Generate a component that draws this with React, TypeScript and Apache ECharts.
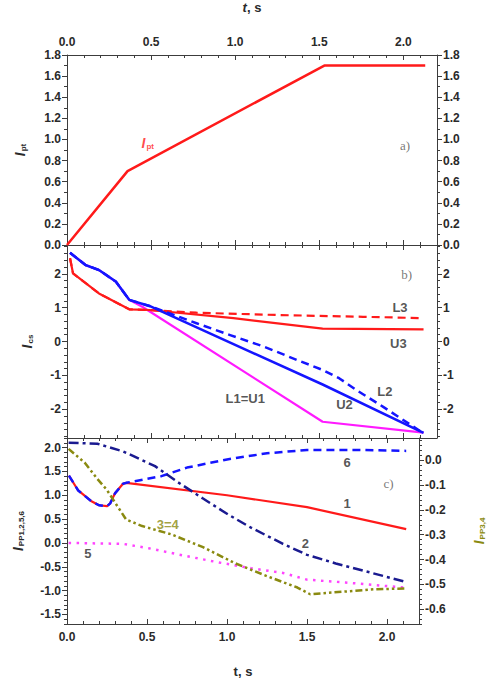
import React, { useEffect, useRef } from "react";
import * as echarts from "echarts";

// ---------- Panel a ----------
const T_PT = [0, 0.36, 1.53, 2.13];
const I_PT = [0, 0.7, 1.7, 1.7];

// ---------- Panel b ----------
const T_U3 = [0.018, 0.036, 0.19, 0.37, 0.49, 0.99, 1.52, 2.12];
const V_U3 = [2.46, 2.01, 1.42, 0.95, 0.93, 0.69, 0.38, 0.36];
const T_L3 = [0.018, 0.036, 0.19, 0.37, 0.49, 0.77, 1.27, 1.76, 2.12];
const V_L3 = [2.46, 2.01, 1.42, 0.95, 0.93, 0.85, 0.78, 0.73, 0.69];
const T_U2 = [0.018, 0.11, 0.19, 0.29, 0.37, 0.49, 1.52, 2.12];
const V_U2 = [2.62, 2.26, 2.11, 1.77, 1.23, 1.05, -1.27, -2.7];
const T_L2 = [0.018, 0.11, 0.19, 0.29, 0.37, 0.49, 0.77, 0.97, 1.17, 1.37, 1.52, 1.62, 1.72, 1.88, 2.12];
const V_L2 = [2.62, 2.26, 2.11, 1.77, 1.23, 1.05, 0.54, 0.19, -0.15, -0.55, -0.84, -1.09, -1.43, -1.93, -2.71];
const T_L1U1 = [0.018, 0.11, 0.19, 0.29, 0.37, 0.45, 1.52, 2.12];
const V_L1U1 = [2.62, 2.26, 2.11, 1.77, 1.23, 1.02, -2.37, -2.69];

// ---------- Panel c ----------
const T_C1 = [0.012, 0.07, 0.15, 0.2, 0.25, 0.27, 0.3, 0.35, 0.37, 1.0, 1.5, 2.12];
const V_C1 = [1.41, 1.1, 0.88, 0.79, 0.77, 0.83, 1.04, 1.24, 1.26, 1.0, 0.75, 0.29];
const T_C6 = [0.012, 0.07, 0.15, 0.2, 0.25, 0.27, 0.3, 0.35, 0.37, 0.59, 0.75, 1.0, 1.25, 1.5, 1.8, 2.12];
const V_C6 = [1.41, 1.1, 0.88, 0.79, 0.77, 0.83, 1.04, 1.24, 1.26, 1.4, 1.58, 1.75, 1.88, 1.95, 1.95, 1.93];
const T_C2 = [0.01, 0.19, 0.35, 0.55, 0.69, 0.85, 1.01, 1.15, 1.35, 1.5, 1.68, 2.12];
const V_C2 = [2.1, 2.08, 1.92, 1.61, 1.28, 0.93, 0.59, 0.32, -0.02, -0.25, -0.43, -0.82];
const T_C34 = [0.01, 0.11, 0.19, 0.25, 0.31, 0.37, 0.47, 0.65, 0.85, 1.05, 1.25, 1.44, 1.52, 1.74, 1.92, 2.11];
const V_C34 = [0.046, -0.009, -0.075, -0.12, -0.18, -0.239, -0.265, -0.298, -0.35, -0.415, -0.467, -0.513, -0.54, -0.529, -0.52, -0.517];
const T_C5 = [0.01, 0.35, 0.51, 0.75, 0.95, 1.15, 1.35, 1.5, 1.74, 2.12];
const V_C5 = [0.0, -0.02, -0.11, -0.28, -0.41, -0.53, -0.63, -0.77, -0.83, -0.94];

// ---------- Ticks ----------
const X_TICKS = [0, 0.5, 1.0, 1.5, 2.0];
const YA_TICKS = [0, 0.2, 0.4, 0.6, 0.8, 1.0, 1.2, 1.4, 1.6, 1.8];
const YB_TICKS = [-2, -1, 0, 1, 2];
const YC_TICKS = [-1.5, -1.0, -0.5, 0, 0.5, 1.0, 1.5, 2.0];
const YCR_TICKS = [-0.6, -0.5, -0.4, -0.3, -0.2, -0.1, 0];

// ---------- Annotations (data coordinates) ----------
const LABELS_A = [
  { text: "{i|I}{s|pt}", t: 0.48, v: 0.97, kind: "ipt" },
  { text: "a)", t: 2.01, v: 0.94, kind: "panel" },
];
const LABELS_B = [
  { text: "b)", t: 2.02, v: 1.98, kind: "panel" },
  { text: "L3", t: 1.98, v: 1.01, kind: "curve" },
  { text: "U3", t: 1.97, v: -0.05, kind: "curve" },
  { text: "L2", t: 1.89, v: -1.48, kind: "curve" },
  { text: "U2", t: 1.65, v: -1.87, kind: "curve" },
  { text: "L1=U1", t: 1.06, v: -1.68, kind: "curve" },
];
const LABELS_C = [
  { text: "c)", t: 2.01, v: 1.24, kind: "panel" },
  { text: "6", t: 1.75, v: 1.68, kind: "curve" },
  { text: "1", t: 1.75, v: 0.83, kind: "curve" },
  { text: "3=4", t: 0.63, v: 0.39, kind: "olive" },
  { text: "2", t: 1.49, v: -0.01, kind: "curve" },
  { text: "5", t: 0.13, v: -0.22, kind: "curve" },
];

const FONT = "'Liberation Sans', Arial, sans-serif";
const SERIF = "'Liberation Serif', 'DejaVu Serif', serif";
const AXIS_COLOR = "#3c3c3c";
const TEXT_COLOR = "#2a2a2a";
const RED = "#ff1a1a";
const BLUE = "#1515ff";
const MAGENTA = "#ff1aff";
const NAVY = "#1a1a90";
const OLIVE = "#8a8a10";
const PINK = "#ff44ff";

function range(a: number, b: number, step: number): number[] {
  const out: number[] = [];
  const n = Math.round((b - a) / step);
  for (let i = 0; i <= n; i++) out.push(+(a + i * step).toFixed(6));
  return out;
}

const NAME_RICH = {
  i: { fontFamily: FONT, fontStyle: "italic", fontWeight: "bold", fontSize: 14, color: TEXT_COLOR },
  s: { fontFamily: FONT, fontWeight: "bold", fontSize: 8, color: TEXT_COLOR, padding: [7, 0, 0, 1] },
};

function buildOption() {
  const xAxes: any[] = [];
  const yAxes: any[] = [];

  function addX(gridIndex: number, position: string, labels: boolean, name?: string, italicT?: boolean) {
    const idx = xAxes.length;
    xAxes.push({
      type: "value",
      gridIndex,
      position,
      min: 0,
      max: 2.2,
      axisLine: { show: true, onZero: false, lineStyle: { color: AXIS_COLOR, width: 1 } },
      axisTick: { show: true, inside: true, length: 5, customValues: X_TICKS, lineStyle: { color: AXIS_COLOR } },
      axisLabel: {
        show: labels,
        customValues: X_TICKS,
        formatter: (v: number) => v.toFixed(1),
        fontFamily: FONT,
        fontWeight: "bold",
        fontSize: 12,
        color: TEXT_COLOR,
        margin: 7,
      },
      splitLine: { show: false },
      name: name ? (italicT ? "{it|t}{n|, s}" : "{n|t, s}") : undefined,
      nameLocation: "middle",
      nameGap: 41,
      nameTextStyle: {
        rich: {
          it: { fontFamily: FONT, fontStyle: "italic", fontWeight: "bold", fontSize: 13, color: TEXT_COLOR },
          n: { fontFamily: FONT, fontWeight: "bold", fontSize: 13, color: TEXT_COLOR },
        },
      },
    });
    xAxes.push({
      type: "value",
      gridIndex,
      position,
      min: 0,
      max: 2.2,
      axisLine: { show: false, onZero: false },
      axisTick: { show: true, inside: true, length: 3, customValues: range(0.1, 2.1, 0.1), lineStyle: { color: AXIS_COLOR } },
      axisLabel: { show: false },
      splitLine: { show: false },
    });
    return idx;
  }

  function addY(
    gridIndex: number,
    position: string,
    min: number,
    max: number,
    majors: number[],
    minors: number[],
    fmt: (v: number) => string,
    name?: string,
    nameGap?: number,
    nameColor?: string
  ) {
    const idx = yAxes.length;
    const rich: any = {
      i: { ...NAME_RICH.i, color: nameColor || TEXT_COLOR },
      s: { ...NAME_RICH.s, color: nameColor || TEXT_COLOR },
    };
    yAxes.push({
      type: "value",
      gridIndex,
      position,
      min,
      max,
      axisLine: { show: true, onZero: false, lineStyle: { color: AXIS_COLOR, width: 1 } },
      axisTick: { show: true, inside: false, length: 5, customValues: majors, lineStyle: { color: AXIS_COLOR } },
      axisLabel: {
        show: true,
        customValues: majors,
        formatter: fmt,
        fontFamily: FONT,
        fontWeight: "bold",
        fontSize: 12,
        color: TEXT_COLOR,
        margin: 6,
      },
      splitLine: { show: false },
      name,
      nameLocation: "middle",
      nameRotate: 90,
      nameGap: nameGap || 30,
      nameTextStyle: { rich },
    });
    yAxes.push({
      type: "value",
      gridIndex,
      position,
      min,
      max,
      axisLine: { show: false, onZero: false },
      axisTick: { show: true, inside: false, length: 3, customValues: minors, lineStyle: { color: AXIS_COLOR } },
      axisLabel: { show: false },
      splitLine: { show: false },
    });
    return idx;
  }

  const f1 = (v: number) => v.toFixed(1);
  const f0 = (v: number) => String(Math.round(v));

  // panel a
  const xa = addX(0, "top", true, "t", true);
  addX(0, "bottom", false);
  const ya = addY(0, "left", 0, 1.8, YA_TICKS, range(0.1, 1.7, 0.2), f1, "{i|I}{s|pt}", 40);
  addY(0, "right", 0, 1.8, YA_TICKS, range(0.1, 1.7, 0.2), f1);
  // panel b
  const xb = addX(1, "top", false);
  addX(1, "bottom", false);
  const yb = addY(1, "left", -2.85, 2.85, YB_TICKS, range(-2.8, 2.8, 0.2), f0, "{i|I}{s|cs}", 33);
  addY(1, "right", -2.85, 2.85, YB_TICKS, range(-2.8, 2.8, 0.2), f0);
  // panel c
  addX(2, "top", false);
  const xc = addX(2, "bottom", true, "t", false);
  const yc = addY(2, "left", -1.7, 2.2, YC_TICKS, range(-1.7, 2.2, 0.1), f1, "{i|I}{s|PP1,2,5,6}", 42);
  const ycr = addY(2, "right", -0.66, 0.09, YCR_TICKS, range(-0.66, 0.08, 0.02), f1, "{i|I}{s|PP3,4}", 52, OLIVE);

  function line(ts: number[], vs: number[], xi: number, yi: number, color: string, width: number, type: any) {
    return {
      type: "line",
      xAxisIndex: xi,
      yAxisIndex: yi,
      data: ts.map((t, i) => [t, vs[i]]),
      symbol: "none",
      silent: true,
      lineStyle: { color, width, type, cap: "butt", join: "round" },
    };
  }

  function labelSeries(items: any[], xi: number, yi: number) {
    return {
      type: "scatter",
      xAxisIndex: xi,
      yAxisIndex: yi,
      symbolSize: 1,
      silent: true,
      itemStyle: { color: "transparent" },
      z: 10,
      data: items.map((it) => {
        let label: any;
        if (it.kind === "panel") {
          label = { fontFamily: SERIF, fontSize: 13, color: "#555", fontWeight: "normal" };
        } else if (it.kind === "ipt") {
          label = {
            rich: {
              i: { fontFamily: FONT, fontStyle: "italic", fontWeight: "bold", fontSize: 14, color: RED },
              s: { fontFamily: FONT, fontWeight: "bold", fontSize: 8, color: RED, padding: [7, 0, 0, 1] },
            },
          };
        } else {
          label = {
            fontFamily: FONT,
            fontWeight: "bold",
            fontSize: 13,
            color: it.kind === "olive" ? OLIVE : TEXT_COLOR,
          };
        }
        return {
          value: [it.t, it.v],
          label: { show: true, position: "inside", formatter: it.text, ...label },
        };
      }),
    };
  }

  const series: any[] = [
    // a
    line(T_PT, I_PT, xa, ya, RED, 2.5, "solid"),
    labelSeries(LABELS_A, xa, ya),
    // b
    line(T_L1U1, V_L1U1, xb, yb, MAGENTA, 2.2, "solid"),
    line(T_L3, V_L3, xb, yb, RED, 2.2, [8, 5]),
    line(T_U3, V_U3, xb, yb, RED, 2.2, "solid"),
    line(T_L2, V_L2, xb, yb, BLUE, 2.5, [8, 5]),
    line(T_U2, V_U2, xb, yb, BLUE, 2.5, "solid"),
    labelSeries(LABELS_B, xb, yb),
    // c
    line(T_C1, V_C1, xc, yc, RED, 2.2, "solid"),
    line(T_C6, V_C6, xc, yc, BLUE, 2.5, [8, 5]),
    line(T_C5, V_C5, xc, yc, PINK, 2.5, [2.5, 5.5]),
    line(T_C2, V_C2, xc, yc, NAVY, 2.5, [10, 4, 3, 4]),
    line(T_C34, V_C34, xc, ycr, OLIVE, 2.5, [7, 3, 2.5, 3, 2.5, 3]),
    labelSeries(LABELS_C, xc, yc),
  ];

  return {
    animation: false,
    backgroundColor: "#ffffff",
    grid: [
      { left: 67, right: 57, top: 55, height: 190 },
      { left: 67, right: 57, top: 245, height: 193 },
      { left: 67, right: 57, top: 438, height: 191 },
    ],
    xAxis: xAxes,
    yAxis: yAxes,
    series,
  };
}

export default function App() {
  const ref = useRef<HTMLDivElement>(null);
  useEffect(() => {
    if (!ref.current) return;
    const chart = echarts.init(ref.current, null, { renderer: "svg" });
    chart.setOption(buildOption() as any);
    return () => chart.dispose();
  }, []);
  return (
    <div
      ref={ref}
      style={{ position: "fixed", left: 0, top: 0, width: 494, height: 679, background: "#fff" }}
    />
  );
}
